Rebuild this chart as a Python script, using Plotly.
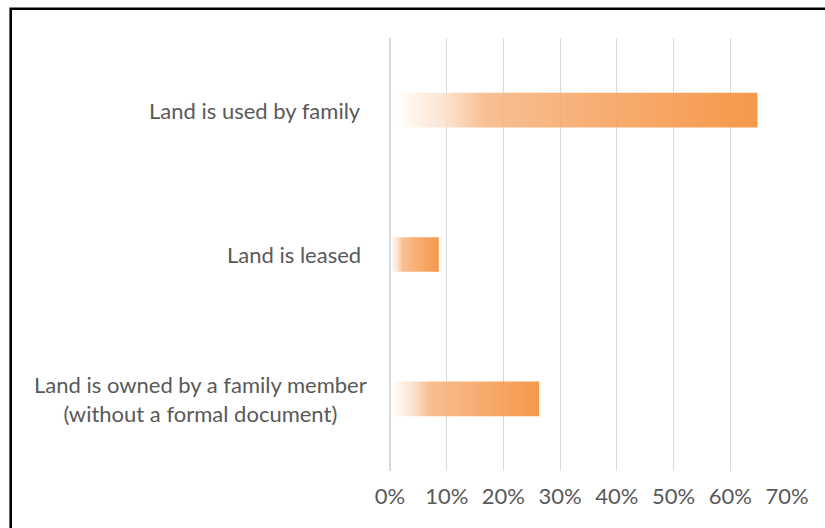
import plotly.graph_objects as go

categories = [
    "Land is used by family",
    "Land is leased",
    "Land is owned by a family member<br>(without a formal document)",
]
values = [0.648, 0.086, 0.263]
x_ticks = [0, 0.1, 0.2, 0.3, 0.4, 0.5, 0.6, 0.7]
x_tick_labels = ["0%", "10%", "20%", "30%", "40%", "50%", "60%", "70%"]

FONT = "Lato"
TXT = "#595959"
HALF = 0.12

gradient = [
    [0.0, "rgba(255,255,255,0)"],
    [0.06, "rgba(253,243,235,0.9)"],
    [0.15, "rgba(252,225,204,0.9)"],
    [0.26, "rgba(247,184,134,0.9)"],
    [0.5, "rgba(246,169,107,0.9)"],
    [1.0, "rgba(244,141,54,0.9)"],
]

fig = go.Figure()
n = len(categories)
for i, (cat, v) in enumerate(zip(categories, values)):
    ypos = n - 1 - i
    fig.add_trace(go.Scatter(
        x=[0, v, v, 0, 0],
        y=[ypos - HALF, ypos - HALF, ypos + HALF, ypos + HALF, ypos - HALF],
        mode="lines",
        fill="toself",
        line=dict(width=0),
        fillgradient=dict(type="horizontal", colorscale=gradient),
        hoverinfo="skip",
        showlegend=False,
    ))
    fig.add_annotation(
        x=0, xref="paper", xanchor="right",
        xshift=-21 if "<br>" in cat else -27,
        y=ypos, yref="y", yanchor="middle",
        text=cat, showarrow=False, align="center",
        font=dict(family=FONT, size=22, color=TXT),
    )

fig.update_layout(
    width=825, height=528,
    margin=dict(l=390, r=38, t=38, b=57),
    paper_bgcolor="white", plot_bgcolor="white",
    xaxis=dict(
        range=[0, 0.7], tickvals=x_ticks, ticktext=x_tick_labels,
        showgrid=True, gridcolor="#D9D9D9", gridwidth=1.2,
        zeroline=True, zerolinecolor="#D9D9D9", zerolinewidth=2,
        showline=False, ticks="", ticklabelstandoff=10,
        tickfont=dict(family=FONT, size=22, color=TXT),
        fixedrange=True,
    ),
    yaxis=dict(
        range=[-0.5, n - 0.5], showticklabels=False, showgrid=False,
        zeroline=False, showline=False, fixedrange=True,
    ),
    shapes=[dict(
        type="rect", xref="paper", yref="paper",
        x0=(10.7 - 390) / 397, x1=(840 - 390) / 397,
        y0=(471 - 545) / 433, y1=(471 - 8.7) / 433,
        line=dict(color="black", width=2.6), fillcolor="rgba(0,0,0,0)",
        layer="above",
    )],
)

fig.write_html(
    "out.html",
    config={"displayModeBar": False},
    post_script="document.body.style.margin='0px';",
)
